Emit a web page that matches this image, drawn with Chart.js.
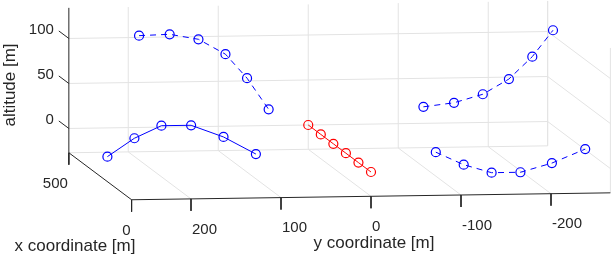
<!DOCTYPE html>
<html>
<head>
<meta charset="utf-8">
<style>
    body { margin: 0; background: #fff; }
    #chart { display: block; }
</style>
</head>
<body>
<canvas id="chart" width="612" height="258"></canvas>

<script src="https://cdn.jsdelivr.net/npm/chart.js"></script>
<script>
    // flight paths, coordinates in metres (x, y, altitude)
    const pathAX = [500, 500, 500, 500, 500, 500];
    const pathAY = [188, 154, 122, 92, 68, 44];
    const pathAZ = [102, 103, 97, 80, 53, 18];

    const pathBX = [200, 200, 200, 200, 200, 200];
    const pathBY = [265, 235, 205, 172, 136, 100];
    const pathBZ = [0, 20, 33.5, 33.5, 20, 0.5];

    const pathCX = [400, 400, 400, 400, 400, 400];
    const pathCY = [-114, -148, -180, -209, -235, -258];
    const pathCZ = [29, 33, 42, 58.5, 83, 112];

    const pathDX = [0, 0, 0, 0, 0, 0];
    const pathDY = [-72, -103, -134, -166, -201, -238];
    const pathDZ = [21, 6.6, -2.7, -2.7, 7, 22];

    const redX = [0, 100, 200, 300, 400, 500];
    const redY = [0, 0, 0, 0, 0, 0];
    const redZ = [0, 0, 0, 0, 0, 0];

    // axes
    const xLim = [0, 500];
    const yLim = [-266, 266];
    const zLim = [-27, 134];
    const xTicks = [0, 500];
    const yTicks = [200, 100, 0, -100, -200];
    const zTicks = [0, 50, 100];
    const xTickLabels = ['0', '500'];
    const yTickLabels = ['200', '100', '0', '-100', '-200'];
    const zTickLabels = ['0', '50', '100'];

    // simple fixed 3d view (MATLAB-like)
    function proj(x, y, z) {
        return { x: -0.9 * y - 0.1255 * x, y: 0.9 * z + 0.094 * x - 0.013 * y };
    }
    function path(xs, ys, zs) {
        return xs.map((x, i) => proj(x, ys[i], zs[i]));
    }

    const GRID = '#e3e3e3';
    const AXIS = '#262626';
    const tickLen = 13.3; // in altitude units (~12px)

    const segments = [];
    function seg(a, b, color) {
        segments.push({ data: [proj(...a), proj(...b)], color: color });
    }

    // back wall (x = max)
    yTicks.forEach(t => seg([xLim[1], t, zLim[0]], [xLim[1], t, zLim[1]], GRID));
    zTicks.forEach(t => seg([xLim[1], yLim[1], t], [xLim[1], yLim[0], t], GRID));
    seg([xLim[1], yLim[0], zLim[0]], [xLim[1], yLim[0], zLim[1]], GRID);
    // side wall (y = min)
    zTicks.forEach(t => seg([xLim[1], yLim[0], t], [xLim[0], yLim[0], t], GRID));
    xTicks.forEach(t => seg([t, yLim[0], zLim[0]], [t, yLim[0], zLim[1]], GRID));
    // floor
    yTicks.forEach(t => seg([xLim[1], t, zLim[0]], [xLim[0], t, zLim[0]], GRID));
    seg([xLim[1], yLim[1], zLim[0]], [xLim[1], yLim[0], zLim[0]], GRID);

    // axis lines
    seg([xLim[1], yLim[1], zLim[0]], [xLim[1], yLim[1], zLim[1]], AXIS);
    seg([xLim[1], yLim[1], zLim[0]], [xLim[0], yLim[1], zLim[0]], AXIS);
    seg([xLim[0], yLim[1], zLim[0]], [xLim[0], yLim[0], zLim[0]], AXIS);
    // tick marks
    yTicks.forEach(t => seg([xLim[0], t, zLim[0]], [xLim[0], t, zLim[0] - tickLen], AXIS));
    xTicks.forEach(t => seg([t, yLim[1], zLim[0]], [t, yLim[1], zLim[0] - tickLen], AXIS));
    zTicks.forEach(t => seg([xLim[1], yLim[1], t], [xLim[1] + 80, yLim[1], t], AXIS));

    function series(data, color, dash) {
        return {
            data: data,
            showLine: true,
            borderColor: color,
            borderWidth: 1,
            borderDash: dash,
            pointStyle: 'circle',
            pointRadius: 4.5,
            pointBorderWidth: 1.2,
            pointBorderColor: color,
            pointBackgroundColor: 'rgba(0,0,0,0)',
            order: 1
        };
    }

    const datasets = [
        series(path(pathAX, pathAY, pathAZ), '#0000ff', [6, 5]),
        series(path(pathBX, pathBY, pathBZ), '#0000ff', []),
        series(path(pathCX, pathCY, pathCZ), '#0000ff', [6, 5]),
        series(path(pathDX, pathDY, pathDZ), '#0000ff', [6, 5]),
        series(path(redX, redY, redZ), '#ff0000', [])
    ];
    segments.forEach(s => datasets.push({
        data: s.data,
        showLine: true,
        borderColor: s.color,
        borderWidth: 1,
        pointRadius: 0,
        order: s.color === AXIS ? 2 : 3
    }));

    const FONT = '"Liberation Sans", Arial, Helvetica, sans-serif';

    const labels3d = {
        id: 'labels3d',
        afterDraw(chart) {
            const ctx = chart.ctx;
            const sx = chart.scales.x, sy = chart.scales.y;
            const pix = (x, y, z) => {
                const p = proj(x, y, z);
                return [sx.getPixelForValue(p.x), sy.getPixelForValue(p.y)];
            };
            ctx.save();
            ctx.fillStyle = AXIS;
            ctx.font = '15px ' + FONT;
            ctx.textBaseline = 'middle';

            ctx.textAlign = 'right';
            zTicks.forEach((t, i) => {
                const [px, py] = pix(xLim[1] + 80, yLim[1], t);
                ctx.fillText(zTickLabels[i], px - 5, py - 1.5);
            });
            xTicks.forEach((t, i) => {
                const [px, py] = pix(t, yLim[1], zLim[0] - tickLen);
                ctx.fillText(xTickLabels[i], px - 1, py + 19);
            });
            ctx.textAlign = 'left';
            yTicks.forEach((t, i) => {
                const [px, py] = pix(xLim[0], t, zLim[0] - tickLen);
                ctx.fillText(yTickLabels[i], px + 1, py + 18.5);
            });

            ctx.font = '17px ' + FONT;
            ctx.textAlign = 'center';
            ctx.fillText('x coordinate [m]', 75, 246);
            ctx.fillText('y coordinate [m]', 374, 243);
            ctx.translate(10, 85);
            ctx.rotate(-Math.PI / 2);
            ctx.fillText('altitude [m]', 0, 0);
            ctx.restore();
        }
    };

    new Chart(document.getElementById('chart').getContext('2d'), {
        type: 'scatter',
        data: { datasets: datasets },
        options: {
            responsive: false,
            animation: false,
            devicePixelRatio: 1,
            events: [],
            layout: { padding: 0, autoPadding: false },
            plugins: { legend: { display: false }, tooltip: { enabled: false } },
            scales: {
                x: { type: 'linear', display: false, min: -371, max: 241 },
                y: { type: 'linear', display: false, min: -86, max: 172 }
            }
        },
        plugins: [labels3d]
    });
</script>
</body>
</html>
